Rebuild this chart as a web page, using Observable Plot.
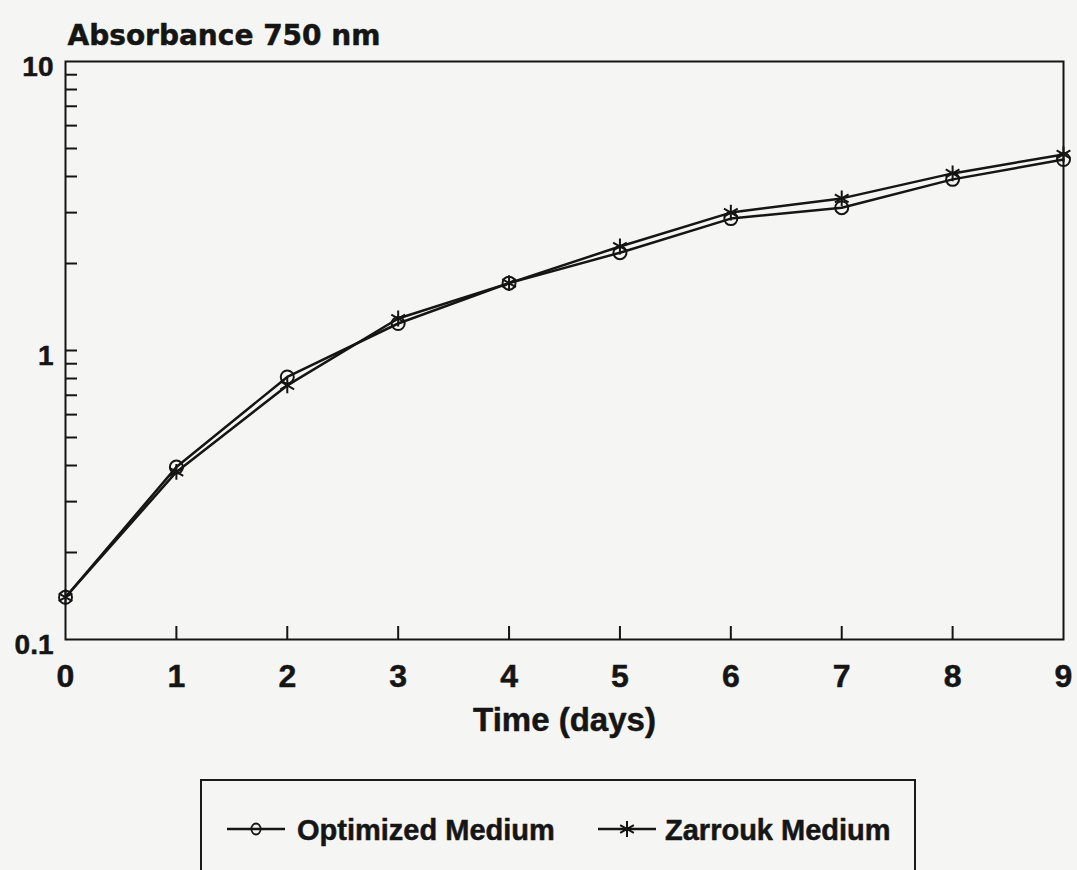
<!DOCTYPE html>
<html>
<head>
<meta charset="utf-8">
<script src="https://cdn.jsdelivr.net/npm/d3@7"></script>
<script src="https://cdn.jsdelivr.net/npm/@observablehq/plot@0.6"></script>
<style>
  html, body { margin: 0; padding: 0; background: #f5f5f3; overflow: hidden; }
  #wrap { position: relative; width: 1077px; height: 870px; }
  #legend { position: absolute; left: 200px; top: 779px; width: 716px; height: 140px;
            border: 2px solid #1a1a1a; box-sizing: border-box; }
  .lg-sym { position: absolute; }
  .lg-txt { position: absolute; font-family: "Liberation Sans", Arial, sans-serif; font-weight: bold;
            font-size: 29px; line-height: 29px; color: #151515; white-space: nowrap;
            -webkit-text-stroke: 0.5px #151515; }
</style>
</head>
<body>
<div id="wrap"></div>
<script>
// ---- data ----
const days = [0, 1, 2, 3, 4, 5, 6, 7, 8, 9];
const optimized = [0.14, 0.395, 0.81, 1.24, 1.71, 2.18, 2.86, 3.12, 3.91, 4.58];
const zarrouk   = [0.14, 0.38, 0.757, 1.29, 1.71, 2.29, 3.0, 3.36, 4.10, 4.77];
const seriesNames = ["Optimized Medium", "Zarrouk Medium"];
const xTickValues = [0, 1, 2, 3, 4, 5, 6, 7, 8, 9];
const xInnerTicks = [1, 2, 3, 4, 5, 6, 7, 8];
const yLabelValues = [0.1, 1, 10];
const yLabelText = ["0.1", "1", "10"];
const yMinorTicks = [0.2, 0.3, 0.4, 0.5, 0.6, 0.7, 0.8, 0.9, 1, 2, 3, 4, 5, 6, 7, 8, 9];
const titleText = "Absorbance 750 nm";
const xLabelText = "Time (days)";

const rows = [];
days.forEach((d, i) => {
  rows.push({day: d, value: optimized[i], series: seriesNames[0]});
  rows.push({day: d, value: zarrouk[i], series: seriesNames[1]});
});

const W = 1077, H = 870;
const mL = 65, mR = 14, mT = 61, mB = 231;
const plotW = W - mL - mR, plotH = H - mT - mB;
const ink = "#151515";
const txt = {fill: ink, stroke: ink, strokeWidth: 0.5, fontWeight: "bold"};

const chart = Plot.plot({
  width: W, height: H,
  marginLeft: mL, marginRight: mR, marginTop: mT, marginBottom: mB,
  style: {background: "transparent", color: ink, overflow: "visible"},
  x: {domain: [0, 9], axis: null},
  y: {type: "log", domain: [0.1, 10], axis: null},
  marks: [
    Plot.frame({stroke: ink, strokeWidth: 2}),
    // inward ticks on x axis
    Plot.tickX(xInnerTicks, {x: d => d, stroke: ink, strokeWidth: 2, insetTop: plotH - 13}),
    // inward ticks on y axis
    Plot.tickY(yMinorTicks, {y: d => d, stroke: ink, strokeWidth: 2, insetRight: plotW - 12}),
    // x tick labels
    Plot.text(xTickValues, {x: d => d, text: d => String(d), frameAnchor: "bottom", lineAnchor: "middle", dy: 37,
      fontFamily: "Liberation Sans, Arial, sans-serif", fontSize: 32, ...txt}),
    // y tick labels
    Plot.text(yLabelValues, {y: d => d, text: (d, i) => yLabelText[i], frameAnchor: "left", lineAnchor: "middle",
      dx: -12, dy: 6, textAnchor: "end", fontFamily: "Liberation Sans, Arial, sans-serif", fontSize: 28, ...txt}),
    // x axis label
    Plot.text([xLabelText], {frameAnchor: "bottom", lineAnchor: "middle", dy: 81, text: d => d,
      fontFamily: "Liberation Sans, Arial, sans-serif", fontSize: 33, ...txt}),
    // title
    Plot.text([titleText], {frameAnchor: "top-left", lineAnchor: "middle", dx: 2, dy: -25, textAnchor: "start",
      text: d => d, fontFamily: "DejaVu Sans, sans-serif", fontSize: 28, ...txt}),
    // lines
    Plot.line(rows, {x: "day", y: "value", z: "series", stroke: ink, strokeWidth: 2.5}),
    // markers
    Plot.dot(rows.filter(r => r.series === seriesNames[0]), {x: "day", y: "value", r: 6.5,
      symbol: "circle", fill: "none", stroke: ink, strokeWidth: 2}),
    Plot.dot(rows.filter(r => r.series === seriesNames[1]), {x: "day", y: "value", r: 7.5,
      symbol: "asterisk", stroke: ink, strokeWidth: 2})
  ]
});

const wrap = document.getElementById("wrap");
wrap.appendChild(chart);

// ---- legend (HTML, below plot area) ----
const legend = document.createElement("div");
legend.id = "legend";
wrap.appendChild(legend);

function addItem(symbolKind, label, symLeft, txtLeft) {
  const ns = "http://www.w3.org/2000/svg";
  const svg = document.createElementNS(ns, "svg");
  svg.setAttribute("width", 58); svg.setAttribute("height", 24);
  svg.setAttribute("class", "lg-sym");
  svg.style.left = (symLeft - 200) + "px";
  svg.style.top = (827 - 12 - 779) + "px";
  const line = document.createElementNS(ns, "line");
  line.setAttribute("x1", 0); line.setAttribute("x2", 58);
  line.setAttribute("y1", 12); line.setAttribute("y2", 12);
  line.setAttribute("stroke", ink); line.setAttribute("stroke-width", 2.5);
  svg.appendChild(line);
  const sym = d3.symbol().type(symbolKind === "circle" ? d3.symbolCircle : d3.symbolAsterisk)
    .size(symbolKind === "circle" ? Math.PI * 30 : Math.PI * 56)();
  const p = document.createElementNS(ns, "path");
  p.setAttribute("d", sym);
  p.setAttribute("transform", symbolKind === "circle" ? "translate(29,12) scale(0.85,1)" : "translate(29,12)");
  p.setAttribute("fill", "none"); p.setAttribute("stroke", ink); p.setAttribute("stroke-width", 2);
  svg.appendChild(p);
  legend.appendChild(svg);
  const t = document.createElement("div");
  t.className = "lg-txt";
  t.textContent = label;
  t.style.left = (txtLeft - 200) + "px";
  t.style.top = (839 - 25 - 779) + "px";
  legend.appendChild(t);
}
addItem("circle", seriesNames[0], 225, 295);
addItem("asterisk", seriesNames[1], 596, 663);
</script>
</body>
</html>
